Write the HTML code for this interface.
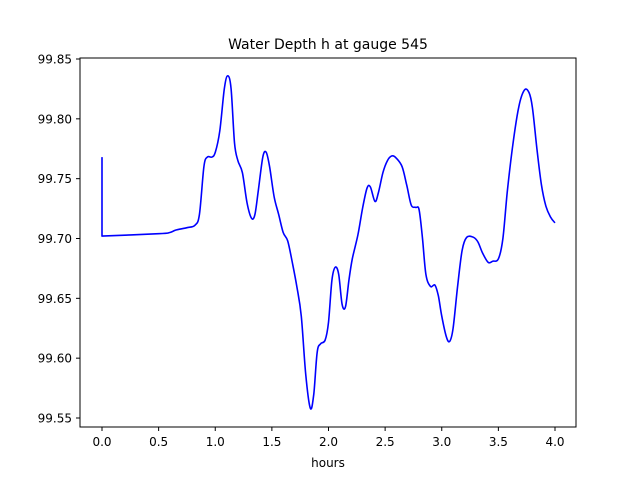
<!DOCTYPE html>
<html><head><meta charset="utf-8"><style>
body{margin:0;background:#fff}
svg text{font-family:"DejaVu Sans","Liberation Sans",sans-serif}
</style></head><body>
<svg id="chart" width="640" height="480">
<rect width="640" height="480" fill="#fff"/>
<text x="328" y="49" text-anchor="middle" font-size="14">Water Depth h at gauge 545</text>
<text x="328" y="467" text-anchor="middle" font-size="12">hours</text>
<g id="xt"></g><g id="yt"></g>
<path id="line" fill="none" stroke="#0000ff" stroke-width="1.6" stroke-linejoin="round"/>
<rect x="80" y="58" width="496" height="369" fill="none" stroke="#000" stroke-width="1"/>
</svg>
<script>
const hours=[0,0,0.5,0.6,0.65,0.75,0.82,0.86,0.9,0.93,0.97,1.0,1.04,1.08,1.11,1.14,1.17,1.2,1.24,1.28,1.32,1.35,1.38,1.42,1.45,1.48,1.52,1.56,1.6,1.64,1.68,1.72,1.76,1.8,1.84,1.87,1.9,1.93,1.97,2.0,2.03,2.06,2.09,2.12,2.15,2.18,2.21,2.26,2.3,2.34,2.37,2.41,2.44,2.48,2.52,2.56,2.6,2.65,2.69,2.73,2.77,2.8,2.83,2.86,2.9,2.94,2.97,3.0,3.04,3.07,3.1,3.14,3.18,3.22,3.28,3.32,3.36,3.41,3.45,3.5,3.54,3.58,3.63,3.68,3.73,3.77,3.8,3.84,3.88,3.92,3.96,4.0];
const depth=[99.768,99.702,99.704,99.705,99.707,99.709,99.711,99.72,99.76,99.768,99.768,99.772,99.79,99.825,99.836,99.825,99.78,99.765,99.755,99.73,99.717,99.72,99.74,99.768,99.772,99.76,99.735,99.72,99.705,99.698,99.68,99.66,99.635,99.585,99.558,99.57,99.605,99.612,99.615,99.63,99.665,99.676,99.67,99.645,99.643,99.665,99.683,99.703,99.725,99.742,99.743,99.731,99.738,99.755,99.765,99.769,99.767,99.76,99.745,99.728,99.726,99.724,99.7,99.67,99.66,99.661,99.652,99.635,99.618,99.614,99.625,99.66,99.69,99.701,99.701,99.697,99.688,99.68,99.681,99.683,99.7,99.74,99.78,99.81,99.824,99.822,99.81,99.775,99.745,99.727,99.718,99.713];
const xTicks=[0,0.5,1,1.5,2,2.5,3,3.5,4];
const xLabels=["0.0","0.5","1.0","1.5","2.0","2.5","3.0","3.5","4.0"];
const yTicks=[99.55,99.6,99.65,99.7,99.75,99.8,99.85];
const yLabels=["99.55","99.60","99.65","99.70","99.75","99.80","99.85"];
function X(v){return 102+v*113.25;}
function Y(v){return 418-(v-99.55)/0.3*359;}
const ns="http://www.w3.org/2000/svg";
const P=hours.map((h,i)=>[X(h),Y(depth[i])]);
let d='M'+P[0][0].toFixed(1)+','+P[0][1].toFixed(1)+' L'+P[1][0].toFixed(1)+','+P[1][1].toFixed(1);
for(let i=1;i<P.length-1;i++){
 const p0=P[Math.max(1,i-1)],p1=P[i],p2=P[i+1],p3=P[Math.min(P.length-1,i+2)];
 const c1=[p1[0]+(p2[0]-p0[0])/6,p1[1]+(p2[1]-p0[1])/6];
 const c2=[p2[0]-(p3[0]-p1[0])/6,p2[1]-(p3[1]-p1[1])/6];
 d+=' C'+c1.map(v=>v.toFixed(1)).join(',')+' '+c2.map(v=>v.toFixed(1)).join(',')+' '+p2.map(v=>v.toFixed(1)).join(',');
}
document.getElementById('line').setAttribute('d',d);
const xt=document.getElementById('xt');
xTicks.forEach((t,i)=>{
 const l=document.createElementNS(ns,'line');
 l.setAttribute('x1',X(t));l.setAttribute('x2',X(t));l.setAttribute('y1',427);l.setAttribute('y2',431);l.setAttribute('stroke','#000');
 
 
 xt.appendChild(l);
 const tx=document.createElementNS(ns,'text');
 tx.setAttribute('x',X(t));tx.setAttribute('y',446);tx.setAttribute('text-anchor','middle');tx.setAttribute('font-size','12');
 tx.textContent=xLabels[i];
 
 
 xt.appendChild(tx);
});
const yt=document.getElementById('yt');
yTicks.forEach((t,i)=>{
 const l=document.createElementNS(ns,'line');
 l.setAttribute('x1',76);l.setAttribute('x2',80);l.setAttribute('y1',Y(t));l.setAttribute('y2',Y(t));l.setAttribute('stroke','#000');
 
 
 yt.appendChild(l);
 const tx=document.createElementNS(ns,'text');
 tx.setAttribute('x',72);tx.setAttribute('y',Y(t)+4.5);tx.setAttribute('text-anchor','end');tx.setAttribute('font-size','12');
 tx.textContent=yLabels[i];
 
 
 yt.appendChild(tx);
});
</script>
</body></html>
